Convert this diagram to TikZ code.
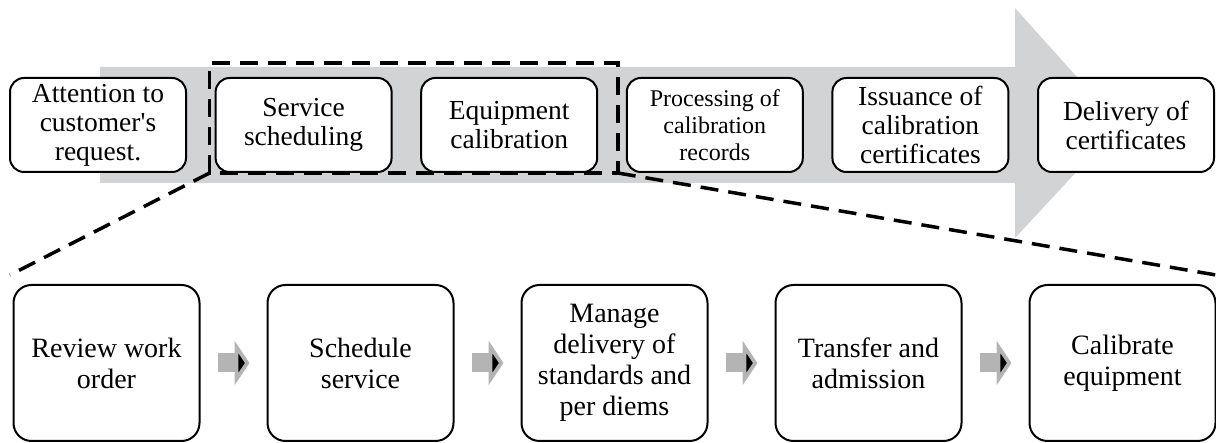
\documentclass[tikz,border=0pt]{standalone}
\usepackage{fontspec}
\setmainfont{Liberation Serif}[Ligatures=TeXOff]
\usetikzlibrary{calc}
\usetikzlibrary{arrows.meta}
\usetikzlibrary{positioning}
\definecolor{bandgray}{RGB}{209,211,212}
\definecolor{stepgray}{RGB}{180,180,181}
\tikzset{
    stage/.style={
           rectangle,
           rounded corners=14pt,
           draw=black, line width=2pt,
           fill=white,
           minimum width=176pt,
           minimum height=94pt,
           inner sep=2pt,
           align=center,
           font=\fontsize{27.5}{29}\selectfont,
           },
    task/.style={
           rectangle,
           rounded corners=18pt,
           draw=black, line width=2pt,
           fill=white,
           minimum width=186pt,
           minimum height=156pt,
           inner sep=2pt,
           align=center,
           font=\fontsize{28}{31}\selectfont,
           },
    flow/.style={
           draw=stepgray, line width=19pt,
           -{Triangle[length=15pt,width=44pt]},
           shorten <=17pt, shorten >=17pt,
           },
    zoomline/.style={line width=3.5pt, dash pattern=on 18pt off 10pt},
}

\begin{document}
\begin{tikzpicture}[x=1pt,y=1pt,node distance=205.6pt,on grid]
   \useasboundingbox (0,0) rectangle (1216,443);
   % big grey arrow
   \fill[bandgray] (100,260) -- (1015,260) -- (1015,205) -- (1120,318)
        -- (1015,435) -- (1015,376) -- (100,376) -- cycle;
   \node[stage] (att) at (98,318) {Attention to\\customer's\\request.};
   \node[stage] (ser) [right=of att] {Service\\scheduling};
   \node[stage] (equ) [right=of ser] {Equipment\\calibration};
   \node[stage,font=\fontsize{24}{27}\selectfont] (pro) [right=of equ] {Processing of\\calibration\\records};
   \node[stage] (iss) [right=of pro] {Issuance of\\calibration\\certificates};
   \node[stage] (del) [right=of iss] {Delivery of\\certificates};
   % detail
   \node[task] (rev) at (106.5,80) {Review work\\order};
   \node[task] (sch) [right=254pt of rev] {Schedule\\service};
   \node[task] (man) [right=254pt of sch] {Manage\\delivery of\\standards and\\per diems};
   \node[task] (tra) [right=254pt of man] {Transfer and\\admission};
   \node[task] (cal) [right=254pt of tra] {Calibrate\\equipment};
    \path[flow]
    (rev) edge (sch)
    (sch) edge (man)
    (man) edge (tra)
    (tra) edge (cal);
   % zoom frame
   \coordinate (ztl) at ($(ser.north west)+(-5,14)$);
   \coordinate (zbl) at ($(ser.south west)+(-5,0)$);
   \coordinate (zbr) at ($(pro.south west)+(-8,0)$);
   \coordinate (zoomleft) at (10,168);
   \coordinate (zoomright) at (1216,168);
   \draw[zoomline] (zbl) -- (ztl) -| (zbr) -- cycle;
   \draw[zoomline] (zbl) -- (zoomleft);
   \draw[zoomline] (zbr) -- (zoomright);
\end{tikzpicture}
\end{document}
